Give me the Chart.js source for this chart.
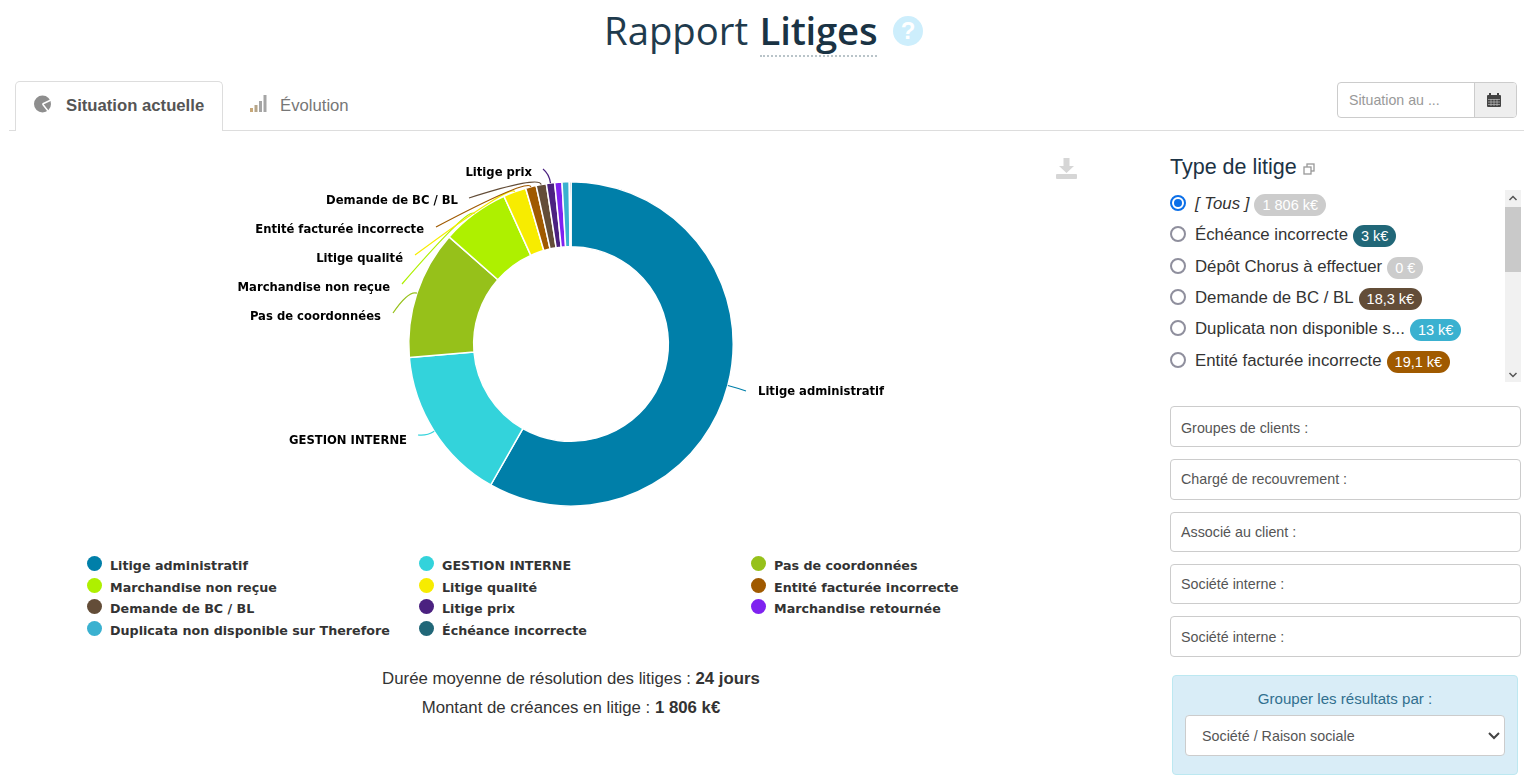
<!DOCTYPE html>
<html lang="fr"><head><meta charset="utf-8"><title>Rapport Litiges</title>
<script src="https://cdn.jsdelivr.net/npm/chart.js@4/dist/chart.umd.min.js"></script>
<style>
html,body{margin:0;padding:0;background:#fff;width:1524px;height:779px;overflow:hidden;font-family:"Liberation Sans",Arial,sans-serif;color:#333}
.a{position:absolute;white-space:nowrap}
#title{left:604px;top:4px;font:38.3px/52px "Open Sans",sans-serif;color:#1f3b4d;word-spacing:1.500px}
#title span{border-bottom:2px dotted #b9c4c9;display:inline-block;line-height:50px;color:#1a3344;font-weight:600;letter-spacing:-.2px}
#help{left:893px;top:16px;width:30px;height:30px;border-radius:50%;background:#cdeefc;color:#fff;font:bold 24px/30px "Liberation Sans";text-align:center}
#tabline{left:9px;top:130px;width:1515px;height:1px;background:#ddd}
#tab1{left:15px;top:81px;width:208px;height:50px;box-sizing:border-box;border:1px solid #ddd;border-bottom:none;border-radius:5px 5px 0 0;background:#fff}
.tabt{font-size:16.7px;line-height:20px;top:95.500px}
#date{left:1337px;top:82px;width:180px;height:36px;box-sizing:border-box;border:1px solid #ccc;border-radius:4px;overflow:hidden;background:#fff}
#dateadd{position:absolute;right:0;top:0;bottom:0;width:41px;background:#eee;border-left:1px solid #ccc}
#chart-wrap{position:absolute;left:100px;top:150px;width:942px;height:388px}
.dot{width:15px;height:15px;border-radius:50%}
.lg{font:bold 12.7px/18px "DejaVu Sans",sans-serif;color:#333}
.foot{width:1142px;left:0;text-align:center;font-size:16.8px;line-height:20px;color:#333}
.rad{width:16px;height:16px;box-sizing:border-box;border:2px solid #8f8f9d;border-radius:50%;left:1170px;background:#fff}
.rad.on{border-color:#0b6fe8}
.rad.on::after{content:"";position:absolute;left:2px;top:2px;width:8px;height:8px;border-radius:50%;background:#0b6fe8}
.rl{left:1195px;font-size:16.8px;line-height:20px;color:#333}
.bd{height:22px;border-radius:11px;padding:0 8px;font-size:14.500px;line-height:23px;color:#fff;box-sizing:border-box}
.flt{left:1170px;width:351px;box-sizing:border-box;border:1px solid #ccc;border-radius:4px;font-size:14.3px;color:#555;padding-left:10px;background:#fff}
#sb{left:1505px;top:190px;width:16px;height:192px;background:#f1f1f1}
#th{left:1505px;top:207px;width:16px;height:65px;background:#c9c9c9}
#grp{left:1172px;top:675px;width:346px;height:100px;box-sizing:border-box;background:#d9edf7;border:1px solid #bce8f1;border-radius:4px}
#sel{left:1185px;top:715px;width:320px;height:41px;box-sizing:border-box;background:#fff;border:1px solid #ccc;border-radius:4px;font-size:14.3px;line-height:40px;color:#555;padding-left:16px}
</style></head><body>
<div class="a" id="title">Rapport <span>Litiges</span></div>
<div class="a" id="help">?</div>
<div class="a" id="tabline"></div><div class="a" id="tab1"></div>
<svg class="a" style="left:33px;top:95px" width="20" height="18" viewBox="0 0 20 18"><circle cx="9.500" cy="9" r="8.500" fill="#8e8e8e"/><path d="M9.500 9L18 5M9.500 9L15 16" stroke="#fff" stroke-width="1.500" fill="none"/></svg>
<div class="a tabt" style="left:66px;font-weight:bold;color:#555">Situation actuelle</div>
<svg class="a" style="left:250px;top:95px" width="17" height="17"><rect x="0" y="13" width="3" height="4" fill="#c8a878"/><rect x="4.500" y="10" width="3" height="7" fill="#b5a58a"/><rect x="9" y="6" width="3" height="11" fill="#a5a5a5"/><rect x="13.500" y="0" width="3" height="17" fill="#a5a5a5"/></svg>
<div class="a tabt" style="left:280px;color:#777">Évolution</div>
<div class="a" id="date"><div id="dateadd"></div></div>
<div class="a" style="left:1349px;top:91px;font-size:14.2px;line-height:18px;color:#999">Situation au ...</div>
<svg class="a" style="left:1487px;top:93px" width="14" height="14"><rect x="0" y="2" width="14" height="12" rx="1" fill="#444"/><rect x="2" y="0" width="2" height="3" fill="#444"/><rect x="10" y="0" width="2" height="3" fill="#444"/><path d="M1 6.500H13M1 9H13M1 11.500H13M4 6V13M7 6V13M10 6V13" stroke="#bbb" stroke-width=".7"/></svg>
<svg class="a" style="left:1056px;top:158px" width="21" height="22"><path d="M7.500 0H13.500V8H18L10.500 15L3 8H7.500Z" fill="#d6d6d6"/><rect x="0" y="16" width="21" height="5" rx="1" fill="#d6d6d6"/></svg>
<div id="chart-wrap"><canvas id="c" width="942" height="388"></canvas></div>
<div id="legend"></div>
<div class="a foot" style="top:669px">Durée moyenne de résolution des litiges : <b>24 jours</b></div>
<div class="a foot" style="top:698px">Montant de créances en litige : <b>1 806 k€</b></div>
<div class="a" style="left:1170px;top:154px;font-size:21.5px;line-height:26px;color:#1c3345">Type de litige</div>
<svg class="a" style="left:1303px;top:163px" width="12" height="12" fill="none" stroke="#999" stroke-width="1.300"><rect x="4" y="1" width="7" height="7"/><rect x="1" y="4" width="7" height="7" fill="#fff"/></svg>
<div id="types"></div>
<div class="a" id="sb"></div><div class="a" id="th"></div>
<svg class="a" style="left:1505px;top:190px" width="16" height="192" fill="none" stroke="#555" stroke-width="1.500"><path d="M4.500 10L8 6.500L11.500 10"/><path d="M4.500 183L8 186.500L11.500 183"/></svg>
<div id="filters"></div>
<div class="a" id="grp"></div>
<div class="a" style="left:1172px;width:346px;top:690px;text-align:center;font-size:15.1px;line-height:18px;color:#31708f">Grouper les résultats par :</div>
<div class="a" id="sel">Société / Raison sociale</div>
<svg class="a" style="left:1488px;top:731px" width="12" height="10" fill="none" stroke="#444" stroke-width="2"><path d="M1 2L6 7L11 2"/></svg>
<script>
const categories=["Litige administratif","GESTION INTERNE","Pas de coordonnées","Marchandise non reçue","Litige qualité","Entité facturée incorrecte","Demande de BC / BL","Litige prix","Marchandise retournée","Duplicata non disponible sur Therefore","Échéance incorrecte"];
const amounts=[1052,279,231,122,41,19.1,18.3,15,13,13,3];
const colors=["#007fa9","#33d3db","#96c11a","#aef000","#f7ec00","#a05a00","#634d38","#4b2180","#7f22f0","#3ab1d0","#216778"];
const typeNames=["[ Tous ]","Échéance incorrecte","Dépôt Chorus à effectuer","Demande de BC / BL","Duplicata non disponible s...","Entité facturée incorrecte"];
const typeBadges=["1 806 k€","3 k€","0 €","18,3 k€","13 k€","19,1 k€"];
const typeBadgeColors=["#cccccc","#216778","#cccccc","#634d38","#3ab1d0","#a05a00"];
const filterNames=["Groupes de clients :","Chargé de recouvrement :","Associé au client :","Société interne :","Société interne :"];

/* page furniture */
const lgX=[87,419,751], lgY=[557,579,600,622];
document.getElementById('legend').innerHTML=categories.map((n,i)=>{
  const c=i%3,r=Math.floor(i/3);
  return `<div class="a dot" style="left:${lgX[c]}px;top:${lgY[r]-1}px;background:${colors[i]}"></div><div class="a lg" style="left:${lgX[c]+23}px;top:${lgY[r]}px">${n}</div>`;
}).join('');
const rowY=[203,234,266,297,328,360];
document.getElementById('types').innerHTML=typeNames.map((n,i)=>`<div class="a rad${i?'':' on'}" style="top:${rowY[i]-8}px"></div><div class="a rl" style="top:${rowY[i]-10}px"><span style="position:relative;top:1px;${i?'':'font-style:italic'}">${n}</span><span class="bd" style="display:inline-block;margin-left:5px;vertical-align:-2px;background:${typeBadgeColors[i]}">${typeBadges[i]}</span></div>`).join('');
const fy=[[406,41,42],[459,41,39],[512,40,38],[564,40,38],[616,41,41]];
document.getElementById('filters').innerHTML=filterNames.map((n,i)=>`<div class="a flt" style="top:${fy[i][0]}px;height:${fy[i][1]}px;line-height:${fy[i][2]}px">${n}</div>`).join('');

/* data-label layout, relative to doughnut centre: text edge and connector end */
const labelLayout=[
 {i:0,tx:187,ty:47,ex:175,ey:47,align:'left'},
 {i:1,tx:-164,ty:96,ex:-153,ey:91,align:'right'},
 {i:2,tx:-190,ty:-28,ex:-178,ey:-31,align:'right'},
 {i:3,tx:-181,ty:-57,ex:-169,ey:-60,align:'right'},
 {i:4,tx:-168,ty:-86,ex:-156,ey:-89,align:'right'},
 {i:5,tx:-147,ty:-115,ex:-135,ey:-117,align:'right'},
 {i:6,tx:-113,ty:-144,ex:-102,ey:-146,align:'right'},
 {i:7,tx:-39,ty:-172,ex:-28,ey:-175,align:'right'}
];
const pieLabels={id:'pieLabels',afterDatasetsDraw(chart){
  const ctx=chart.ctx,arcs=chart.getDatasetMeta(0).data;
  ctx.save();
  labelLayout.forEach(l=>{
    const a=arcs[l.i],m=(a.startAngle+a.endAngle)/2,R=a.outerRadius;
    const px=a.x+Math.cos(m)*R,py=a.y+Math.sin(m)*R;
    const qx=a.x+Math.cos(m)*(R+9),qy=a.y+Math.sin(m)*(R+9);
    ctx.beginPath();ctx.moveTo(a.x+l.ex,a.y+l.ey);ctx.quadraticCurveTo(qx,qy,px,py);
    ctx.strokeStyle=colors[l.i];ctx.lineWidth=1.2;ctx.stroke();
    ctx.fillStyle='#000';ctx.font='bold 11.6px "DejaVu Sans",sans-serif';
    ctx.textAlign=l.align;ctx.textBaseline='middle';
    ctx.fillText(categories[l.i],a.x+l.tx,a.y+l.ty+0.5);
  });
  ctx.restore();
}};
new Chart(document.getElementById('c'),{
  type:'doughnut',
  data:{labels:categories,datasets:[{data:amounts,backgroundColor:colors,borderColor:'#fff',borderWidth:1.5}]},
  options:{responsive:false,animation:false,cutout:'60%',layout:{padding:{top:31,bottom:31}},
    plugins:{legend:{display:false},tooltip:{enabled:false}}},
  plugins:[pieLabels]
});
</script>
</body></html>
